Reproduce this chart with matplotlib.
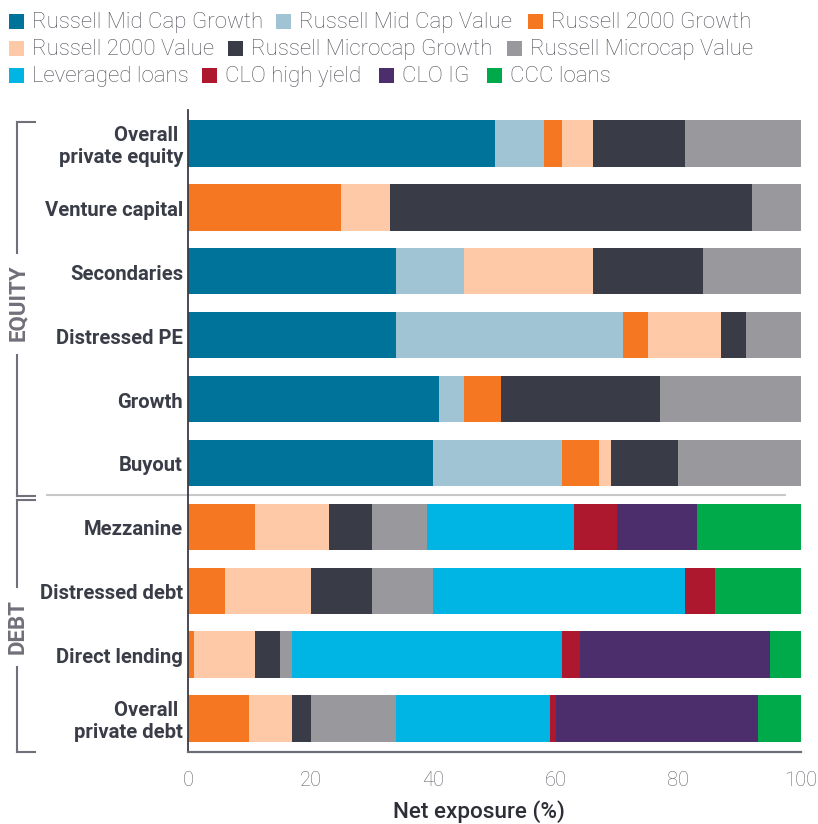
import matplotlib
matplotlib.use("Agg")
import matplotlib.pyplot as plt
import numpy as np
from matplotlib.transforms import blended_transform_factory, ScaledTranslation
from matplotlib.patches import Rectangle
from matplotlib.lines import Line2D

categories = ["Overall \nprivate equity", "Venture capital", "Secondaries", "Distressed PE",
              "Growth", "Buyout", "Mezzanine", "Distressed debt", "Direct lending",
              "Overall \nprivate debt"]

series_names = ["Russell Mid Cap Growth", "Russell Mid Cap Value", "Russell 2000 Growth",
                "Russell 2000 Value", "Russell Microcap Growth", "Russell Microcap Value",
                "Leveraged loans", "CLO high yield", "CLO IG", "CCC loans"]

mid_cap_growth = [50, 0, 34, 34, 41, 40, 0, 0, 0, 0]
mid_cap_value = [8, 0, 11, 37, 4, 21, 0, 0, 0, 0]
r2000_growth = [3, 25, 0, 4, 6, 6, 11, 6, 1, 10]
r2000_value = [5, 8, 21, 12, 0, 2, 12, 14, 10, 7]
microcap_growth = [15, 59, 18, 4, 26, 11, 7, 10, 4, 3]
microcap_value = [19, 8, 16, 9, 23, 20, 9, 10, 2, 14]
leveraged_loans = [0, 0, 0, 0, 0, 0, 24, 41, 44, 25]
clo_high_yield = [0, 0, 0, 0, 0, 0, 7, 5, 3, 1]
clo_ig = [0, 0, 0, 0, 0, 0, 13, 0, 31, 33]
ccc_loans = [0, 0, 0, 0, 0, 0, 17, 14, 5, 7]

x_ticks = [0, 20, 40, 60, 80, 100]
x_label = "Net exposure (%)"
group_labels = ["EQUITY", "DEBT"]

colors = ["#00739A", "#A1C4D4", "#F57722", "#FEC9A7", "#393C47", "#99989D",
          "#00B4E3", "#AD182E", "#4B2E6B", "#00A94A"]

series = [mid_cap_growth, mid_cap_value, r2000_growth, r2000_value, microcap_growth,
          microcap_value, leveraged_loans, clo_high_yield, clo_ig, ccc_loans]

plt.rcParams['font.family'] = ['Roboto', 'DejaVu Sans']

W, H = 818, 824
fig = plt.figure(figsize=(W / 100, H / 100), dpi=100)

def fx(px):
    return px / W

def fy(py):
    return 1 - py / H

ax = fig.add_axes([fx(188), fy(752), fx(801) - fx(188), fy(110) - fy(752)])

y = np.arange(len(categories))
left = np.zeros(len(categories))
for vals, c in zip(series, colors):
    v = np.array(vals, dtype=float)
    ax.barh(y, v, left=left, height=0.73, color=c, edgecolor='none')
    left += v

ax.set_xlim(0, 100)
ax.set_ylim(len(categories) - 0.48, -0.52)
ax.set_yticks([])

# category labels (slightly below bar centre, as in the reference)
lab_tr = blended_transform_factory(ax.transAxes, ax.transData) + \
    ScaledTranslation(-5 / 100, -3 / 100, fig.dpi_scale_trans)
for yi, cat in zip(y, categories):
    ax.text(0, yi, cat, transform=lab_tr, ha='right', va='center', multialignment='right',
            fontsize=14.6, fontweight='bold', color='#3a3d47', linespacing=1.2)

ax.set_xticks(x_ticks)
ax.set_xticklabels([str(t) for t in x_ticks], fontsize=14.5, color='#62646c', fontweight='light')
ax.tick_params(axis='x', length=0, pad=14)
ax.set_xlabel(x_label, fontsize=16.2, fontweight='medium', color='#2d2f36', va='center')
ax.xaxis.set_label_coords((479 - 188) / 613, (752 - 812) / 642)

for s in ['top', 'right']:
    ax.spines[s].set_visible(False)
ax.spines['left'].set_color('#3a3d47')
ax.spines['left'].set_linewidth(1.3)
ax.spines['bottom'].set_color('#6b6e76')
ax.spines['bottom'].set_linewidth(1.6)

# separator between equity and debt
tr = blended_transform_factory(fig.transFigure, ax.transData)
ax.add_line(Line2D([fx(47), fx(785)], [5.5, 5.5], transform=tr, color='#c8c8c8',
                   lw=1.5, clip_on=False))

# brackets
bcol = '#6f7079'
def bracket(top, bottom, gap_top, gap_bot):
    xs = fx(17)
    xe = fx(35)
    for seg in [([xs, xe], [fy(top), fy(top)]),
                ([xs, xs], [fy(top), fy(gap_top)]),
                ([xs, xs], [fy(gap_bot), fy(bottom)]),
                ([xs, xe], [fy(bottom), fy(bottom)])]:
        fig.add_artist(Line2D(seg[0], seg[1], transform=fig.transFigure, color=bcol, lw=1.5))

bracket(122, 496, 253, 355)
bracket(500, 752, 587, 667)
fig.text(fx(18), fy(303), group_labels[0], rotation=90, ha='center', va='center',
         fontsize=16, fontweight='bold', color=bcol)
fig.text(fx(18), fy(627), group_labels[1], rotation=90, ha='center', va='center',
         fontsize=16, fontweight='bold', color=bcol)

# legend (manual flow layout)
rows = [[0, 1, 2], [3, 4, 5], [6, 7, 8, 9]]
row_y = [21.5, 48.5, 75.5]
sq_x = [[9, 276, 528], [9, 228, 507], [9, 202, 379, 487]]
sq = 15
for r, items in enumerate(rows):
    for k, i in enumerate(items):
        x0 = sq_x[r][k]
        fig.add_artist(Rectangle((fx(x0), fy(row_y[r] + sq / 2)), fx(sq), sq / H,
                                 transform=fig.transFigure, color=colors[i], lw=0))
        fig.text(fx(x0 + 23), fy(row_y[r] + 1), series_names[i], ha='left', va='center',
                 fontsize=16, fontweight='light', color='#50525a')

fig.savefig("out.png", dpi=100)
